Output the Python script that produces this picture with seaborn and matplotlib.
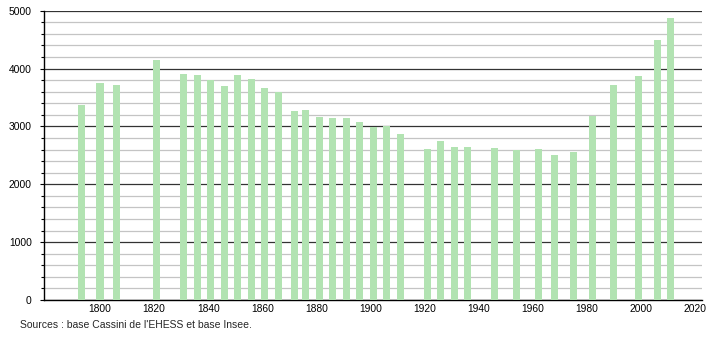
import matplotlib
matplotlib.use("Agg")
import matplotlib.pyplot as plt
from matplotlib.ticker import MultipleLocator
import seaborn as sns
import pandas as pd

years = [1793, 1800, 1806, 1821, 1831, 1836, 1841, 1846, 1851, 1856, 1861, 1866,
         1872, 1876, 1881, 1886, 1891, 1896, 1901, 1906, 1911, 1921, 1926, 1931,
         1936, 1946, 1954, 1962, 1968, 1975, 1982, 1990, 1999, 2006, 2011]
population = [3370, 3750, 3715, 4147, 3905, 3888, 3802, 3698, 3888, 3819, 3663, 3588,
              3266, 3283, 3162, 3145, 3145, 3076, 2995, 3007, 2868, 2609, 2742, 2644,
              2644, 2627, 2586, 2609, 2506, 2557, 3185, 3715, 3871, 4493, 4873]
x_ticks = [1800, 1820, 1840, 1860, 1880, 1900, 1920, 1940, 1960, 1980, 2000, 2020]
y_ticks = [0, 1000, 2000, 3000, 4000, 5000]
source_text = "Sources : base Cassini de l'EHESS et base Insee."

df = pd.DataFrame({"year": years, "population": population})

sns.set_style("white")
plt.rcParams['font.family'] = ['Liberation Sans', 'DejaVu Sans']

fig = plt.figure(figsize=(7.1, 3.4), dpi=100)
ax = fig.add_axes([0.0624, 0.1176, 0.9263, 0.851])

sns.barplot(data=df, x="year", y="population", native_scale=True, width=0.65,
            color="#b2e3b2", saturation=1, ax=ax, zorder=3, linewidth=0)

ax.set_xlim(1779.4, 2022.6)
ax.set_ylim(0, 5000)
ax.set_xticks(x_ticks)
ax.set_xticklabels([str(t) for t in x_ticks])
ax.set_yticks(y_ticks)
ax.yaxis.set_minor_locator(MultipleLocator(200))
ax.grid(which="major", axis="y", color="#333333", linewidth=0.9, zorder=1)
ax.grid(which="minor", axis="y", color="#c4c4c4", linewidth=0.9, zorder=1)
ax.grid(which="major", axis="x", visible=False)
ax.set_axisbelow(True)
ax.set_xlabel("")
ax.set_ylabel("")
for s in ["top", "right"]:
    ax.spines[s].set_visible(False)
ax.spines["left"].set_color("black")
ax.spines["bottom"].set_color("black")
ax.spines["left"].set_linewidth(1)
ax.spines["bottom"].set_linewidth(1)
ax.tick_params(axis="y", which="major", left=True, length=3, width=0.8, pad=6,
               labelsize=7.4, colors="black")
ax.tick_params(axis="y", which="minor", left=True, length=2, width=0.8, colors="black")
ax.tick_params(axis="x", which="both", bottom=False, length=0, pad=3, labelsize=7.4,
               colors="black")

fig.text(20 / 710, 1 - 328 / 340, source_text, fontsize=7.45, ha="left", va="baseline")

fig.savefig("out.png", dpi=100)
